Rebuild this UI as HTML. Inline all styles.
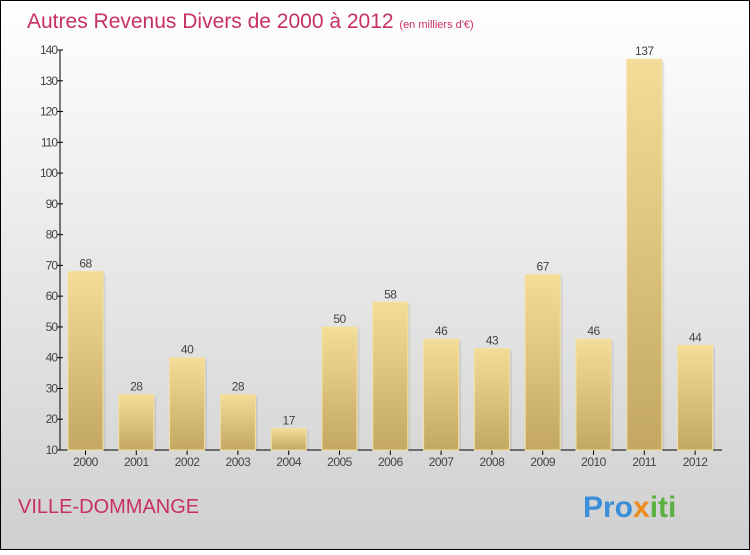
<!DOCTYPE html>
<html><head><meta charset="utf-8"><style>
body{margin:0}
svg text{font-family:"Liberation Sans",sans-serif}
</style></head><body>
<svg id="c" width="750" height="550" xmlns="http://www.w3.org/2000/svg">
<defs>
<linearGradient id="bg" x1="0" y1="0" x2="0" y2="1"><stop offset="0" stop-color="#ffffff"/><stop offset="1" stop-color="#cfcfcf"/></linearGradient>
<linearGradient id="bar" x1="0" y1="0" x2="0" y2="1"><stop offset="0" stop-color="#f4dd98"/><stop offset="1" stop-color="#c3a762"/></linearGradient>
</defs>
<rect x="0.5" y="0.5" width="749" height="549" fill="url(#bg)" stroke="#000"/>
<text x="27" y="28" font-size="21" fill="#c8305f">Autres Revenus Divers de 2000 à 2012 <tspan font-size="11">(en milliers d'€)</tspan></text>
<text x="18" y="513" font-size="20" fill="#c8305f">VILLE-DOMMANGE</text>
<text x="583" y="517" font-size="30" font-weight="bold" fill="#3a8fd8">Pro<tspan fill="#f08a1c">x</tspan><tspan fill="#5bb040">iti</tspan></text>
<g id="axes"></g><g id="bars"></g>
</svg>
<script>
const categories=["2000","2001","2002","2003","2004","2005","2006","2007","2008","2009","2010","2011","2012"];
const values=[68,28,40,28,17,50,58,46,43,67,46,137,44];
const yTicks=[10,20,30,40,50,60,70,80,90,100,110,120,130,140];
const NS="http://www.w3.org/2000/svg";
const y=v=>450-(v-10)*400/130;
const x=i=>85.5+i*50.8;
function mk(tag,attrs,parent,txt){const e=document.createElementNS(NS,tag);for(const k in attrs)e.setAttribute(k,attrs[k]);if(txt!==undefined)e.textContent=txt;parent.appendChild(e);return e;}
const ax=document.getElementById('axes'),bg=document.getElementById('bars');
const yl=mk('line',{x1:60,y1:50,x2:60,y2:450,stroke:'#000'},ax);


const xl=mk('line',{x1:60,y1:450,x2:722,y2:450,stroke:'#000'},ax);


yTicks.forEach(t=>{
 mk('line',{x1:57,y1:y(t),x2:63,y2:y(t),stroke:'#000'},ax);
 const l=mk('text',{x:57,y:y(t)+4,'font-size':12,fill:'#444','text-anchor':'end','letter-spacing':'-1'},ax,t);
 
 
});
categories.forEach((c,i)=>{
 mk('rect',{x:x(i)-15,y:y(values[i])+2,width:35,height:450-y(values[i])-2,fill:'#000',opacity:0.08},bg);
 const r=mk('rect',{x:x(i)-17.5,y:y(values[i]),width:35,height:450-y(values[i]),fill:'url(#bar)',stroke:'#f4e1a0','stroke-width':1},bg);
 
 
 const v=mk('text',{x:x(i),y:y(values[i])-4,'font-size':12,fill:'#444','text-anchor':'middle','letter-spacing':'-0.5'},bg,values[i]);
 
 
 mk('line',{x1:x(i),y1:450,x2:x(i),y2:455,stroke:'#000'},ax);
 const l=mk('text',{x:x(i),y:466,'font-size':12,fill:'#444','text-anchor':'middle','letter-spacing':'-0.5'},ax,c);
 
 
});
</script>
</body></html>
